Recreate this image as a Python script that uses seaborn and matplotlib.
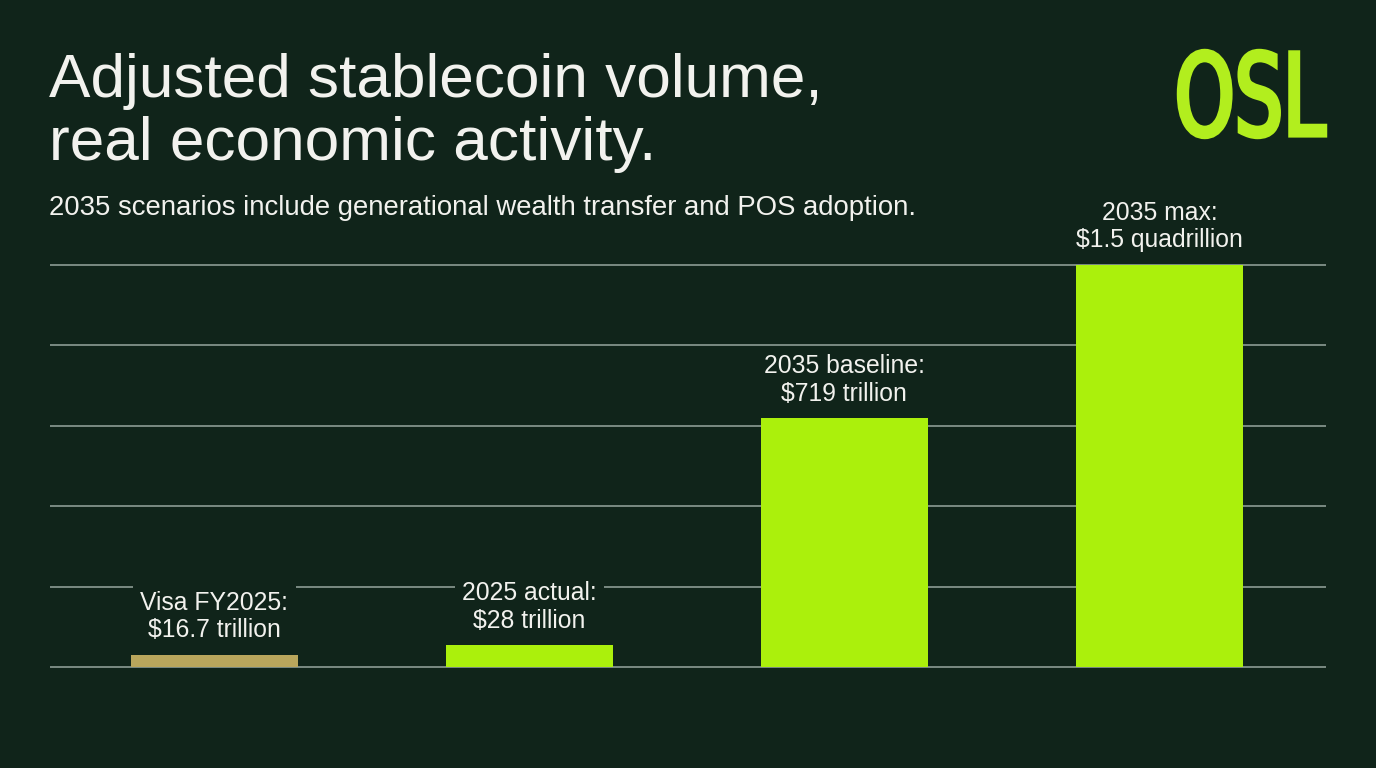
import matplotlib
matplotlib.use("Agg")
import matplotlib.pyplot as plt
import seaborn as sns
from matplotlib.textpath import TextPath
from matplotlib.patches import PathPatch
from matplotlib.font_manager import FontProperties

# data
categories = ["Visa FY2025", "2025 actual", "2035 baseline", "2035 max"]
# bar heights as drawn in the picture (chart is not to scale; gridlines every 300)
bar_heights = [45, 82, 929, 1500]
value_labels = ["$16.7 trillion", "$28 trillion", "$719 trillion", "$1.5 quadrillion"]
label_heads = ["Visa FY2025:", "2025 actual:", "2035 baseline:", "2035 max:"]
bar_colors = ["#b9a65c", "#abf00c", "#abf00c", "#abf00c"]
grid_values = [0, 300, 600, 900, 1200, 1500]

BG = "#10241a"
TXT = "#f2f2ee"
LOGO = "#b2ee1e"

sns.set_theme(style="dark")
plt.rcParams["font.family"] = ["Liberation Sans", "DejaVu Sans"]

fig = plt.figure(figsize=(13.76, 7.68), dpi=100, facecolor=BG)

# main axes: y=0 at px 667, y=1500 at px 265
lo, hi = -10, 1510
ppu = 402 / 1500
bot_px = 667 + (0 - lo) * ppu
top_px = 265 - (hi - 1500) * ppu
ax = fig.add_axes([50 / 1376, 1 - bot_px / 768, 1276 / 1376, (bot_px - top_px) / 768])
ax.set_facecolor(BG)

sns.barplot(x=categories, y=bar_heights, hue=categories, palette=bar_colors,
            width=0.53, legend=False, saturation=1, linewidth=0, edgecolor="none",
            ax=ax, zorder=3)

ax.set_xlim(-0.522, 3.529)
ax.set_ylim(lo, hi)
ax.set_yticks(grid_values)
ax.grid(axis="y", color="#83928a", linewidth=1.3, zorder=1)
ax.grid(axis="x", visible=False)
ax.tick_params(left=False, bottom=False, labelleft=False, labelbottom=False)
ax.set_xlabel("")
ax.set_ylabel("")
for s in ax.spines.values():
    s.set_visible(False)

for i, (h, head, val) in enumerate(zip(bar_heights, label_heads, value_labels)):
    ax.annotate(f"{head}\n{val}", xy=(i, h), xytext=(0, 9), textcoords="offset points",
                ha="center", va="bottom", fontsize=17.8, color=TXT, linespacing=1.2,
                zorder=5,
                bbox=dict(boxstyle="square,pad=0.3", fc=BG, ec="none"))

# titles
fig.text(49 / 1376, 1 - 97 / 768, "Adjusted stablecoin volume,", fontsize=44.7,
         color=TXT, ha="left", va="baseline")
fig.text(49 / 1376, 1 - 160 / 768, "real economic activity.", fontsize=44.7,
         color=TXT, ha="left", va="baseline")
fig.text(49 / 1376, 1 - 215 / 768,
         "2035 scenarios include generational wealth transfer and POS adoption.",
         fontsize=19.8, color=TXT, ha="left", va="baseline")

# logo, stretched to fill its box
lax = fig.add_axes([1179 / 1376, 1 - 137 / 768, 146 / 1376, 86 / 768])
lax.set_axis_off()
tp = TextPath((0, 0), "OSL", size=100, prop=FontProperties(family="DejaVu Sans", weight="normal"))
ext = tp.get_extents()
lax.add_patch(PathPatch(tp, fc=LOGO, ec=LOGO, lw=3.2, joinstyle="miter", clip_on=False))
lax.set_xlim(ext.x0, ext.x1)
lax.set_ylim(ext.y0, ext.y1)

fig.savefig("out.png", dpi=100, facecolor=BG)
